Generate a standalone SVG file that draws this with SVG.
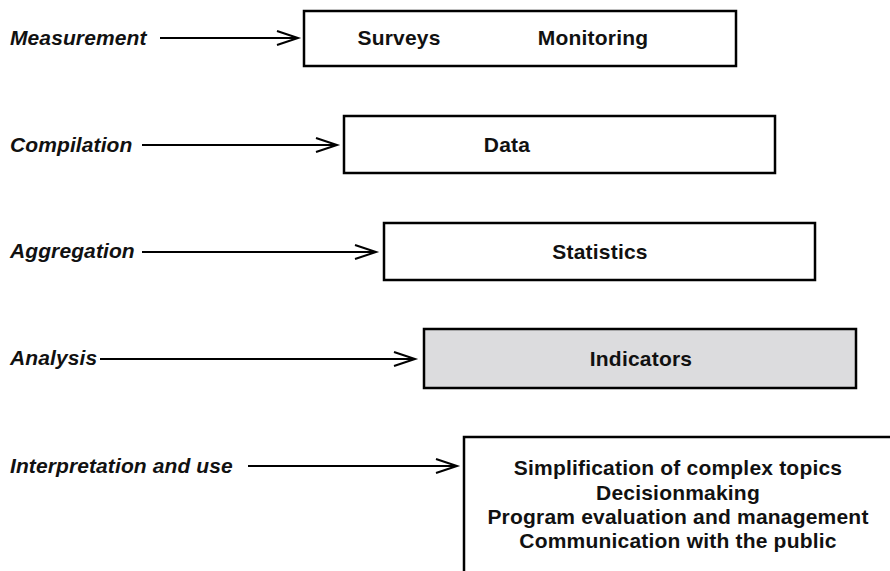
<svg xmlns="http://www.w3.org/2000/svg" width="890" height="571" viewBox="0 0 890 571">
  <style>
    .box { fill: #ffffff; stroke: #000000; stroke-width: 2.5; }
    .box.hl { fill: #dcdcde; }
    .stage { font-family: "Liberation Sans", Arial, sans-serif; font-weight: bold; font-style: italic; font-size: 21px; letter-spacing: 0.1px; fill: #111111; }
    .item { font-family: "Liberation Sans", Arial, sans-serif; font-weight: bold; font-size: 21px; letter-spacing: 0.2px; fill: #111111; text-anchor: middle; }
    .flow { stroke: #000000; stroke-width: 2; fill: none; }
    .head { stroke: #000000; stroke-width: 2; fill: none; stroke-linejoin: miter; }
  </style>
  <rect width="890" height="571" fill="#ffffff"/>

  <!-- stage labels -->
  <g id="labels">
    <text class="stage" x="10" y="45">Measurement</text>
    <text class="stage" x="10" y="152">Compilation</text>
    <text class="stage" x="10" y="258">Aggregation</text>
    <text class="stage" x="10" y="365">Analysis</text>
    <text class="stage" x="10" y="473">Interpretation and use</text>
  </g>

  <!-- connectors: stage label to its box -->
  <g id="connectors">
    <line class="flow" x1="160" y1="38" x2="297" y2="38"/>
    <polyline class="head" points="277,31 298,38 277,45"/>
    <line class="flow" x1="142" y1="145" x2="336" y2="145"/>
    <polyline class="head" points="316,138 337,145 316,152"/>
    <line class="flow" x1="142" y1="252" x2="375" y2="252"/>
    <polyline class="head" points="355,245 376,252 355,259"/>
    <line class="flow" x1="100" y1="359" x2="414" y2="359"/>
    <polyline class="head" points="394,352 415,359 394,366"/>
    <line class="flow" x1="248" y1="466" x2="456" y2="466"/>
    <polyline class="head" points="436,459 457,466 436,473"/>
  </g>

  <g id="measurement">
    <rect class="box" x="304" y="11" width="432" height="55"/>
    <text class="item" x="399" y="45">Surveys</text>
    <text class="item" x="593" y="45">Monitoring</text>
  </g>

  <g id="data">
    <rect class="box" x="344" y="116" width="431" height="57"/>
    <text class="item" x="507" y="152">Data</text>
  </g>

  <g id="statistics">
    <rect class="box" x="384" y="223" width="431" height="57"/>
    <text class="item" x="600" y="259">Statistics</text>
  </g>

  <g id="indicators">
    <rect class="box hl" x="424" y="329" width="432" height="59"/>
    <text class="item" x="641" y="366">Indicators</text>
  </g>

  <g id="uses">
    <rect class="box" x="464" y="437" width="440" height="150"/>
    <text class="item" x="678" y="475">Simplification of complex topics</text>
    <text class="item" x="678" y="500">Decisionmaking</text>
    <text class="item" x="678" y="524">Program evaluation and management</text>
    <text class="item" x="678" y="548">Communication with the public</text>
  </g>
</svg>
